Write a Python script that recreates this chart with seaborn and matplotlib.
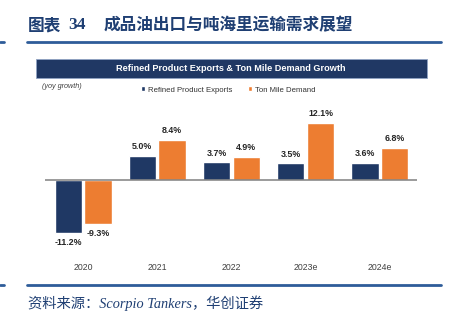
import matplotlib
matplotlib.use("Agg")
import matplotlib.pyplot as plt
import seaborn as sns
import pandas as pd
from matplotlib.lines import Line2D
from matplotlib.patches import Rectangle

years = ["2020", "2021", "2022", "2023e", "2024e"]
exports = [-11.2, 5.0, 3.7, 3.5, 3.6]
ton_mile = [-9.3, 8.4, 4.9, 12.1, 6.8]
series_names = ["Refined Product Exports", "Ton Mile Demand"]
colors = ["#1F3864", "#ED7D31"]

df = pd.DataFrame({
    "year": years * 2,
    "value": exports + ton_mile,
    "series": [series_names[0]] * len(years) + [series_names[1]] * len(years),
})

sns.set_theme(style="white")
plt.rcParams["font.family"] = ["Liberation Sans", "DejaVu Sans"]

W, H = 456, 325
fig = plt.figure(figsize=(W / 100, H / 100), dpi=100)
fig.patch.set_facecolor("white")

def fx(px):
    return px / W

def fy(py):
    return 1 - py / H

# Header title
title_color = "#1F3F73"
cjk = ["Noto Sans CJK SC", "DejaVu Sans"]
fig.text(fx(28), fy(25), "图表", family=cjk, fontsize=12, fontweight="bold",
         color=title_color, va="center", ha="left")
fig.text(fx(68), fy(25), "34", family=["Liberation Serif"], fontsize=12.5, fontweight="bold",
         color=title_color, va="center", ha="left")
fig.text(fx(104), fy(25), "成品油出口与吨海里运输需求展望", family=cjk, fontsize=12,
         fontweight="bold", color=title_color, va="center", ha="left")

line_color = "#2E5C99"
for yy in (42, 285):
    fig.add_artist(Line2D([fx(27), fx(441)], [fy(yy), fy(yy)], color=line_color, lw=2.0))
    fig.add_artist(Line2D([fx(0), fx(4)], [fy(yy), fy(yy)], color=line_color, lw=2.0))

# Banner
fig.add_artist(Rectangle((fx(36), fy(78)), fx(427) - fx(36), fy(59) - fy(78),
                         facecolor="#203864", edgecolor="#8FA3C4", lw=0.6))
fig.text(fx(231), fy(68.5), "Refined Product Exports & Ton Mile Demand Growth",
         color="white", fontsize=6.6, fontweight="bold", ha="center", va="center")

fig.text(fx(42), fy(87), "(yoy growth)", fontsize=5.2, style="italic", color="#404040",
         ha="left", va="center")

# Chart axes
ax = fig.add_axes([fx(45), fy(250), fx(417) - fx(45), fy(105) - fy(250)])
sns.barplot(data=df, x="year", y="value", hue="series", palette=colors,
            order=years, hue_order=series_names, width=0.8, gap=0.08,
            saturation=1, ax=ax)
ax.set_xlim(-0.512, 4.5)
ax.set_ylim(-(250 - 180) / 4.73, (180 - 105) / 4.73)
ax.axhline(0, color="#808080", lw=1.1, zorder=3)
for s in ax.spines.values():
    s.set_visible(False)
ax.set_yticks([])
ax.set_xlabel("")
ax.set_ylabel("")
ax.tick_params(axis="x", length=0, pad=9, labelsize=6.3, labelcolor="#404040")
ax.patch.set_alpha(0)

for cont in ax.containers:
    ax.bar_label(cont, fmt="%.1f%%", padding=3.5, fontsize=6.4, fontweight="bold",
                 color="#262626")

handles, labels = ax.get_legend_handles_labels()
ax.legend(handles, labels, loc="center", bbox_to_anchor=(fx(228), fy(90)),
          bbox_transform=fig.transFigure, ncol=2, frameon=False, fontsize=5.6,
          handlelength=0.6, handleheight=0.6, handletextpad=0.3, columnspacing=2.0,
          labelcolor="#333333")

# Source
fig.text(fx(28), fy(303), "资料来源：Scorpio Tankers，华创证券",
         family=["Liberation Serif", "Noto Sans CJK SC"], style="italic",
         fontsize=10.3, color="#1F3F73", ha="left", va="center")

fig.savefig("out.png", dpi=100, facecolor="white")
